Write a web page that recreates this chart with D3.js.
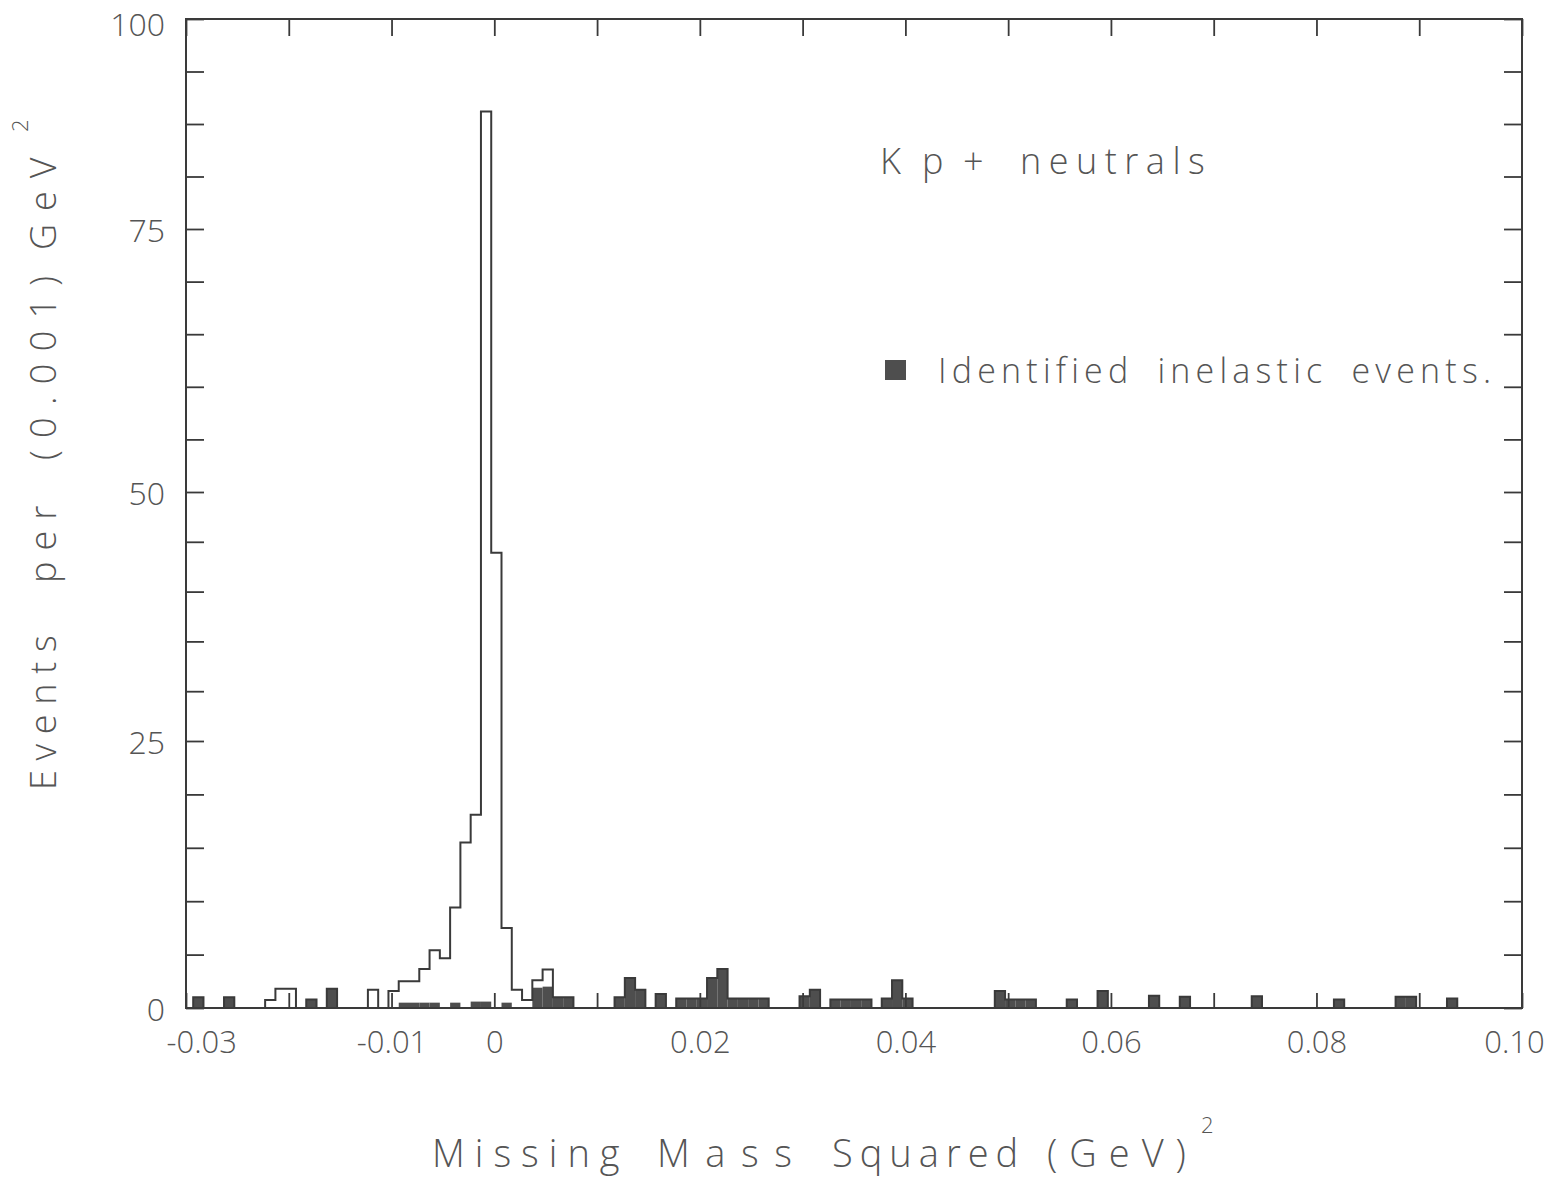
<!DOCTYPE html>
<html><head><meta charset="utf-8">
<script src="https://cdn.jsdelivr.net/npm/d3@7"></script>
<style>
html,body{margin:0;padding:0;background:#fff;}
svg{display:block;font-family:"Open Sans","DejaVu Sans",sans-serif;}
</style>
</head><body>
<svg id="chart" width="1551" height="1180"></svg>
<script>
// ---- data ----
const binStart = -0.0293;   // lower edge of first bin (GeV^2)
const binWidth = 0.001;     // (GeV^2)
const totalCounts = [
  1, 0, 0, 1, 0, 0, 0, 0.75, 1.8, 1.8,
  0, 0.8, 0, 1.8, 0, 0, 0, 1.7, 0, 1.6,
  2.5, 2.5, 3.65, 5.4, 4.65, 9.4, 15.5, 18.1, 89, 43.9,
  7.5, 1.7, 0.75, 2.6, 3.6, 1, 1, 0, 0, 0,
  0, 1, 2.8, 1.7, 0, 1.3, 0, 0.9, 0.9, 0.9,
  2.8, 3.65, 0.9, 0.9, 0.9, 0.9, 0, 0, 0, 1.1,
  1.7, 0, 0.8, 0.8, 0.8, 0.8, 0, 0.9, 2.6, 0.9,
  0, 0, 0, 0, 0, 0, 0, 0, 1.6, 0.8,
  0.8, 0.8, 0, 0, 0, 0.8, 0, 0, 1.6, 0,
  0, 0, 0, 1.15, 0, 0, 1.05, 0, 0, 0,
  0, 0, 0, 1.1, 0, 0, 0, 0, 0, 0,
  0, 0.8, 0, 0, 0, 0, 0, 1.05, 1.05, 0,
  0, 0, 0.9
];
const inelasticCounts = [
  1, 0, 0, 1, 0, 0, 0, 0, 0, 0,
  0, 0.8, 0, 1.8, 0, 0, 0, 0, 0, 0,
  0.5, 0.5, 0.5, 0.5, 0, 0.5, 0, 0.6, 0.6, 0,
  0.5, 0, 0, 1.9, 2.0, 1, 1, 0, 0, 0,
  0, 1, 2.8, 1.7, 0, 1.3, 0, 0.9, 0.9, 0.9,
  2.8, 3.65, 0.9, 0.9, 0.9, 0.9, 0, 0, 0, 1.1,
  1.7, 0, 0.8, 0.8, 0.8, 0.8, 0, 0.9, 2.6, 0.9,
  0, 0, 0, 0, 0, 0, 0, 0, 1.6, 0.8,
  0.8, 0.8, 0, 0, 0, 0.8, 0, 0, 1.6, 0,
  0, 0, 0, 1.15, 0, 0, 1.05, 0, 0, 0,
  0, 0, 0, 1.1, 0, 0, 0, 0, 0, 0,
  0, 0.8, 0, 0, 0, 0, 0, 1.05, 1.05, 0,
  0, 0, 0.9
];
const xTickValues = [-0.03,-0.02,-0.01,0,0.01,0.02,0.03,0.04,0.05,0.06,0.07,0.08,0.09,0.10];
const xLabelValues = [-0.03,-0.01,0,0.02,0.04,0.06,0.08,0.10];
const xLabelTexts  = ["-0.03","-0.01","0","0.02","0.04","0.06","0.08","0.10"];
const yAxisStops   = [0,25,50,75,100];
const yTickValues  = [0,5,10,15,20,25,30,35,40,45,50,55,60,65,70,75,81.25,87.5,93.75,100];
const yLabelValues = [0,25,50,75,100];
const yTitleParts  = ["Events","per","(0.001)","GeV"];
const xTitleParts  = ["Missing","Mass","Squared","(GeV)"];
const reactionParts = ["K","p","+","neutrals"];
const legendText = "Identified inelastic events.";

// ---- layout ----
const L = 186, R = 1522, T = 19, B = 1008;
const ink = "#3a3a3a", textInk = "#555";
const svg = d3.select("#chart");

const x = d3.scaleLinear().domain([-0.03, 0.10]).range([L, R]);
const y = d3.scaleLinear().domain(yAxisStops).range([B, 741, 492, 229, T]);

const bins = totalCounts.map((t, i) => ({
  lo: binStart + i * binWidth,
  hi: binStart + (i + 1) * binWidth,
  total: t,
  inel: inelasticCounts[i]
}));

// filled bars (identified inelastic)
svg.append("g").selectAll("rect").data(bins.filter(d => d.inel > 0)).join("rect")
  .attr("x", d => x(d.lo))
  .attr("width", d => x(d.hi) - x(d.lo))
  .attr("y", d => y(d.inel))
  .attr("height", d => y(0) - y(d.inel))
  .attr("fill", "#4e4e4e");

// open histogram outline (all events)
const pts = [[bins[0].lo, 0]].concat(bins.map(d => [d.lo, d.total]), [[bins[bins.length-1].hi, 0]]);
svg.append("path")
  .attr("d", d3.line().x(d => x(d[0])).y(d => y(d[1])).curve(d3.curveStepAfter)(pts))
  .attr("fill", "none").attr("stroke", ink).attr("stroke-width", 2);

// axes ticks (inward on all four sides)
function styleAxis(g) {
  g.select(".domain").remove();
  g.selectAll(".tick line").attr("stroke", ink).attr("stroke-width", 1.8);
}
svg.append("g").attr("transform", `translate(0,${B})`)
  .call(d3.axisTop(x).tickValues(xTickValues).tickSize(15).tickFormat("")).call(styleAxis);
svg.append("g").attr("transform", `translate(0,${T})`)
  .call(d3.axisBottom(x).tickValues(xTickValues).tickSize(17).tickFormat("")).call(styleAxis);
svg.append("g").attr("transform", `translate(${L},0)`)
  .call(d3.axisRight(y).tickValues(yTickValues).tickSize(18).tickFormat("")).call(styleAxis);
svg.append("g").attr("transform", `translate(${R},0)`)
  .call(d3.axisLeft(y).tickValues(yTickValues).tickSize(18).tickFormat("")).call(styleAxis);

// frame
svg.append("rect").attr("x", L).attr("y", T).attr("width", R - L).attr("height", B - T)
  .attr("fill", "none").attr("stroke", ink).attr("stroke-width", 2);

// x tick labels
const gx = svg.append("g").attr("transform", `translate(0,${B})`)
  .call(d3.axisBottom(x).tickValues(xLabelValues).tickSize(0).tickPadding(23)
    .tickFormat((d, i) => xLabelTexts[i]));
gx.select(".domain").remove();
gx.selectAll("text").attr("font-size", 31).attr("font-weight", 300).attr("fill", textInk)
  .attr("font-family", "'Open Sans', sans-serif")
  .attr("text-anchor", (d, i) => i === 0 ? "start" : "middle")
  .attr("dx", (d, i) => i === 0 ? -20 : (i === xLabelValues.length - 1 ? -8 : 0));

// y tick labels
const gy = svg.append("g").attr("transform", `translate(${L},0)`)
  .call(d3.axisLeft(y).tickValues(yLabelValues).tickSize(0).tickPadding(21));
gy.select(".domain").remove();
gy.selectAll("text").attr("font-size", 32).attr("font-weight", 300).attr("fill", textInk)
  .attr("font-family", "'Open Sans', sans-serif")
  .attr("dy", d => d === 100 ? "0.5em" : "0.4em");

// Y title (rotated)
const yTitleStart = [790, 583, 460, 250];
const yTitleSpacing = [9.7, 11, 12.3, 13];
const gyt = svg.append("g").attr("transform", "translate(56,0) rotate(-90)");
yTitleParts.forEach((s, i) => {
  gyt.append("text").attr("x", -yTitleStart[i]).attr("y", 0).text(s)
    .attr("font-size", 36).attr("font-weight", 300).attr("letter-spacing", yTitleSpacing[i]).attr("fill", textInk);
});
gyt.append("text").attr("x", -132).attr("y", -28).text("2")
  .attr("font-size", 22).attr("font-weight", 300).attr("fill", textInk);

// X title
const xTitleStart = [432, 657, 832, 1047];
const xTitleSpacing = [10, 15.5, 7, 12];
xTitleParts.forEach((s, i) => {
  svg.append("text").attr("x", xTitleStart[i]).attr("y", 1167).text(s)
    .attr("font-size", 38).attr("font-weight", 300).attr("letter-spacing", xTitleSpacing[i]).attr("fill", textInk);
});
svg.append("text").attr("x", 1201).attr("y", 1133).text("2")
  .attr("font-size", 22).attr("font-weight", 300).attr("fill", textInk);

// reaction label
const reactionStart = [880, 922, 963, 1020];
reactionParts.forEach((s, i) => {
  svg.append("text").attr("x", reactionStart[i]).attr("y", 174).text(s)
    .attr("font-size", 36).attr("font-weight", 300).attr("letter-spacing", 7.5).attr("fill", textInk);
});

// legend
svg.append("rect").attr("x", 885).attr("y", 360).attr("width", 21).attr("height", 20).attr("fill", "#4e4e4e");
svg.append("text").attr("x", 938).attr("y", 383).text(legendText)
  .attr("font-size", 34).attr("font-weight", 300).attr("letter-spacing", 5.2).attr("word-spacing", 10)
  .attr("fill", textInk);
</script>
</body></html>
